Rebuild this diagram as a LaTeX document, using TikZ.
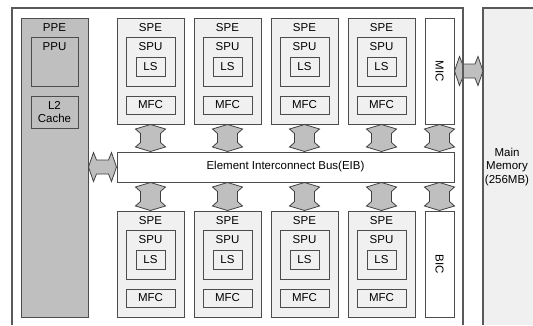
\documentclass[tikz,border=0pt]{standalone}
\usepackage{fontspec}
\setmainfont{Liberation Sans}
\usetikzlibrary{calc}
\tikzset{
	box/.style={draw=black!70, line width=1pt, inner sep=0pt},
	spe/.style={box, fill=black!6, minimum width=67, minimum height=106},
	unit/.style={box, minimum width=49, minimum height=49},
	ppe/.style={box, fill=black!25, minimum width=67, minimum height=299},
	ctrl/.style={box, fill=white, minimum width=29, minimum height=106},
	busarrow/.style={draw=black!75, fill=black!25, line width=0.8pt, line join=miter},
	frame/.style={draw=black!65, line width=1.1pt},
	lbl/.style={inner sep=0pt},
}
% one SPE: name, left x, top y
\newcommand{\spebox}[3]{
	\node[spe] (#1) at (#2+33.5, #3+53) {};
	\node[lbl] (#1t) at (#2+33.5, #3+10) {SPE};
	\node[unit] (#1u) at (#2+33.5, #3+43.5) {};
	\node[lbl] (#1ut) at (#2+33.5, #3+29) {SPU};
	\node[unit, minimum width=29, minimum height=19] (#1ls) at (#2+33.5, #3+48.5) {LS};
	\node[unit, minimum height=18] (#1m) at (#2+33.5, #3+87) {MFC};
}
% fat double arrow, upper end first
\newcommand{\vbus}[2]{
	\draw[busarrow] let \p1=(#1), \p2=(#2) in
		(\x1,\y1) -- (\x1+15pt,\y1-4.5pt) -- (\x1+10pt,\y1-9pt) -- (\x1+10pt,\y2+9pt)
		-- (\x1+15pt,\y2+4.5pt) -- (\x1,\y2) -- (\x1-15pt,\y2+4.5pt) -- (\x1-10pt,\y2+9pt)
		-- (\x1-10pt,\y1-9pt) -- (\x1-15pt,\y1-4.5pt) -- cycle;
}
% fat double arrow, left end first
\newcommand{\hbus}[2]{
	\draw[busarrow] let \p1=(#1), \p2=(#2) in
		(\x1,\y1) -- (\x1+5pt,\y1+14.5pt) -- (\x1+8pt,\y1+7pt) -- (\x2-8pt,\y1+7pt)
		-- (\x2-5pt,\y1+14.5pt) -- (\x2,\y1) -- (\x2-5pt,\y1-14.5pt) -- (\x2-8pt,\y1-7pt)
		-- (\x1+8pt,\y1-7pt) -- (\x1+5pt,\y1-14.5pt) -- cycle;
}

\begin{document}
\begin{tikzpicture}[x=1pt, y=-1pt, font=\fontsize{11.5}{13.5}\selectfont]
	\useasboundingbox (0,0) rectangle (533,325);
	% Main memory
	\fill[black!6] (483,8) rectangle (533,325);
	\draw[frame] (483,325) -- (483,8) -- (533,8);
	\node[lbl, align=center] (mem) at (507,167) {Main\\Memory\\(256MB)};
	\coordinate (memw) at (483,71);
	% PPE
	\node[ppe] (ppe) at (54.5,167.5) {};
	\node[lbl] (ppet) at (54.5,28) {PPE};
	\node[box, minimum width=47, minimum height=49] (ppu) at (54.5,61.5) {};
	\node[lbl] (pput) at (54.5,47) {PPU};
	\node[box, minimum width=47, minimum height=32, align=center] (l2) at (54.5,112) {L2\\Cache};
	% SPEs
	\foreach \i/\x in {1/117,2/194,3/271,4/348} {
		\spebox{spe\i}{\x}{18}
	}
	\foreach \i/\x in {5/117,6/194,7/271,8/348} {
		\spebox{spe\i}{\x}{211}
	}
	% bus and controllers
	\node[box, fill=white, minimum width=337, minimum height=30] (eib) at (285.5,167) {Element Interconnect Bus(EIB)};
	\node[ctrl] (mic) at (439.5,71) {};
	\node[lbl, rotate=-90] (mict) at (mic) {MIC};
	\node[ctrl] (bic) at (439.5,264) {};
	\node[lbl, rotate=-90] (bict) at (bic) {BIC};
	% arrows
	\foreach \i/\j in {1/5,2/6,3/7,4/8} {
		\vbus{spe\i.south}{spe\i.south |- eib.north}
		\vbus{spe\j.north |- eib.south}{spe\j.north}
	}
	\vbus{mic.south}{mic.south |- eib.north}
	\vbus{bic.north |- eib.south}{bic.north}
	\hbus{ppe.east |- eib.west}{eib.west}
	\hbus{mic.east}{memw}
	% chip frame
	\draw[frame] (12,325) -- (12,8) -- (463,8) -- (463,325);
\end{tikzpicture}
\end{document}
